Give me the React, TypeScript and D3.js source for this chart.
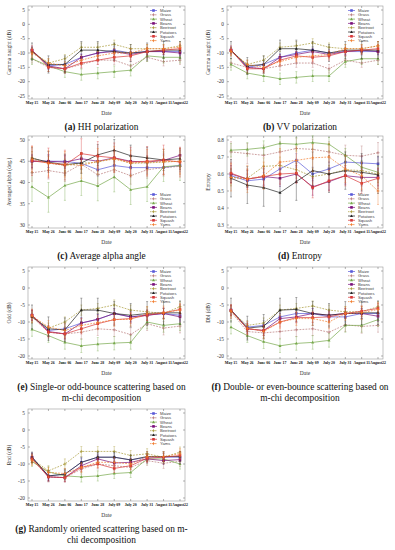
import React from "react";
import * as d3 from "d3";

const dates = ["May 15", "May 26", "June 06", "June 17", "June 28", "July 09", "July 20", "July 31", "August 11", "August22"];
const crops = ["Maize", "Grass", "Wheat", "Beans", "Beetroot", "Potatoes", "Squash", "Yams"];
const cropColors = ["#5a5ad8", "#b87878", "#76a84a", "#7a107a", "#a89a36", "#222222", "#d83838", "#f07a2a"];
const cropDashed = [false, true, false, false, true, false, false, true];
const cropMarkers = ["square", "plus", "triangle", "square", "plus", "triangle", "square", "plus"];

// (a) HH polarization
const hhValues = [
  [-9, -14.5, -14, -11.5, -10, -9, -10, -9.5, -9.5, -9.5],
  [-12, -15, -15.5, -14, -12.5, -12.5, -14.5, -11.5, -13, -12.5],
  [-12, -14.5, -16.5, -17.5, -17, -16.5, -16, -11, -11.5, -11.5],
  [-9, -14.5, -15.5, -11.5, -10, -9.5, -10.5, -9.5, -9.5, -10],
  [-9.5, -13.5, -12, -8, -8, -7, -8.5, -8.5, -8.5, -7.5],
  [-9.5, -14, -14, -9, -9, -9.5, -10, -9.5, -9, -9],
  [-9, -15, -15.5, -13.5, -12.5, -11.5, -11, -9.5, -9, -8.5],
  [-10, -13.5, -14.5, -12.5, -11, -10, -10, -8.5, -8.5, -8],
];
const hhErr = [1.2, 1.5, 2, 1, 1.5, 3, 1.5, 1.5];

// (b) VV polarization
const vvValues = [
  [-9, -15, -14, -11.5, -10, -9, -10, -9.5, -9.5, -9.5],
  [-13.5, -15, -15.5, -14.5, -13.5, -13.5, -15.5, -12.5, -13.5, -12.5],
  [-14, -17, -18, -19, -18.5, -18, -18, -13, -12, -12],
  [-9, -15, -15.5, -11.5, -10.5, -9.5, -10.5, -9.5, -9, -9.5],
  [-9.5, -14, -12.5, -8, -7.5, -6.5, -8, -8.5, -8.5, -7.5],
  [-9, -14.5, -14, -8.5, -8.5, -9, -10, -9, -9, -9],
  [-9, -15.5, -15.5, -12.5, -11, -11.5, -11, -9.5, -9, -8.5],
  [-9.5, -14, -15, -13, -11.5, -11, -10.5, -8.5, -8.5, -7.5],
];
const vvErr = [1.2, 1.5, 2, 1, 1.5, 3, 1.5, 1.5];

// (c) Average alpha angle
const alphaValues = [
  [45, 45, 45, 44.5, 43, 44, 43.5, 43.5, 43.5, 44],
  [42.3, 42.8, 42.2, 44.3, 41.8, 43, 41.6, 43, 43.5, 43.8],
  [39, 36.5, 39.3, 40.4, 39.2, 41.3, 38.3, 39, 43.7, 44],
  [45, 45, 44.8, 45.6, 45, 45.8, 45, 44.8, 45.2, 46.4],
  [45.8, 44.6, 44, 44.5, 44.8, 45.7, 44.5, 44.6, 44.8, 45],
  [45.7, 44.8, 44.2, 44.6, 46.5, 47.6, 46.3, 45.8, 45.3, 45.6],
  [45.1, 44.6, 44.1, 46.8, 46.2, 45.8, 44.8, 45, 45.3, 44.8],
  [45.5, 44.5, 44.3, 44, 45, 45.5, 44.6, 44.8, 44.9, 45],
];
const alphaErr = [1.5, 2, 3.5, 1.5, 1.5, 2.5, 3.5, 3];

// (d) Entropy
const entropyValues = [
  [0.59, 0.56, 0.57, 0.63, 0.68, 0.6, 0.63, 0.67, 0.665, 0.66],
  [0.73, 0.72, 0.71, 0.73, 0.75, 0.745, 0.73, 0.71, 0.705, 0.725],
  [0.74, 0.745, 0.755, 0.78, 0.775, 0.785, 0.775, 0.71, 0.64, 0.61],
  [0.6, 0.57, 0.585, 0.575, 0.6, 0.525, 0.555, 0.59, 0.58, 0.58],
  [0.58, 0.575, 0.645, 0.65, 0.625, 0.585, 0.6, 0.625, 0.62, 0.6],
  [0.575, 0.535, 0.52, 0.49, 0.555, 0.62, 0.6, 0.62, 0.61, 0.595],
  [0.605, 0.57, 0.585, 0.6, 0.605, 0.52, 0.56, 0.59, 0.545, 0.575],
  [0.58, 0.57, 0.59, 0.67, 0.68, 0.695, 0.7, 0.63, 0.59, 0.5],
];
const entropyErr = [0.04, 0.06, 0.04, 0.05, 0.05, 0.11, 0.06, 0.08];

// (e) Odd
const oddValues = [
  [-8, -12.5, -12, -10.3, -9.2, -7.5, -8.5, -8, -7.5, -8],
  [-8.5, -13, -13.5, -13, -12, -12.3, -13.7, -10.5, -11.8, -11.2],
  [-12.2, -14, -16, -17, -16.5, -16.2, -16, -10, -11, -10.5],
  [-8, -12.8, -13.5, -10.3, -9.2, -7.5, -8.5, -8, -7.5, -8.5],
  [-8.5, -11.8, -10, -6.5, -6, -5, -6.5, -7, -7.5, -5.5],
  [-8.5, -12, -12.3, -6.5, -6.5, -7.5, -8, -7.5, -7.3, -7.3],
  [-8, -13, -13.5, -12, -10.5, -9.3, -9, -8, -7.3, -6.3],
  [-8.2, -11.5, -12.5, -11, -10.2, -9.3, -9.2, -7.5, -7.3, -6.5],
];
const oddErr = [1.5, 2, 2, 1.5, 1.5, 3.5, 1.5, 2];

// (f) Dbl
const dblValues = [
  [-6.5, -11.5, -11, -8.5, -7.5, -7.5, -8.5, -8.5, -7.5, -7.5],
  [-7, -12.8, -13.2, -12.8, -12.3, -12, -13, -10.8, -11.3, -11],
  [-11.5, -14, -15.8, -17, -16.3, -16, -15.4, -11, -11, -9.3],
  [-6.5, -12, -12.5, -9, -8.5, -7.5, -8, -7.5, -7.5, -8.3],
  [-6.8, -11, -10.3, -6.5, -6, -5.3, -6.5, -7, -7, -5.5],
  [-6.5, -11.8, -11.3, -6.5, -6.3, -7.5, -8, -7.5, -7.3, -7.3],
  [-6.6, -12, -12.5, -10, -8.7, -8.7, -8.5, -7.5, -6.8, -6],
  [-6.8, -11.8, -12.8, -10, -9, -9, -10, -7.5, -7.3, -6.3],
];
const dblErr = [1.5, 2, 2, 1.5, 1.5, 3.5, 1.5, 2];

// (g) Rnd
const rndValues = [
  [-8, -13.5, -13, -9.5, -8, -8, -8.8, -8, -8, -8],
  [-8.5, -13.8, -14, -11.5, -10, -10.5, -11, -9, -9.8, -9.2],
  [-9.3, -12.3, -13.5, -13.8, -13.5, -12.8, -12.5, -8.5, -8.5, -10],
  [-8, -13.8, -14, -10.5, -8.5, -9.7, -9.5, -8.5, -9, -8.7],
  [-8.5, -12, -10, -6.3, -6.3, -6.3, -7.5, -7, -8, -6.5],
  [-8, -13.5, -13, -9.5, -8, -8, -8.8, -7.8, -7.8, -7.8],
  [-8.5, -13.8, -14, -11, -10, -11.3, -10.5, -8.3, -8, -7.5],
  [-9, -12.5, -12.8, -11, -9.5, -9.5, -10, -7.8, -7.8, -7],
];
const rndErr = [1.2, 1.5, 1.5, 1.2, 1.5, 1.5, 1.2, 1.5];

const dbTicks = [5, 0, -5, -10, -15, -20, -25];
const dbTicks20 = [5, 0, -5, -10, -15, -20];
const alphaTicks = [50, 45, 40, 35, 30];
const entropyTicks = [0.8, 0.7, 0.6, 0.5, 0.4, 0.3];

type PanelSpec = {
  x0: number; x1: number; top: number; bottom: number;
  tTop: number; tBot: number; yTicks: number[]; yLabel: string;
  values: number[][]; err: number[]; legendTop: boolean;
  caption: string[]; tag: string; fmt?: (v: number) => string;
};

const L = { x0: 28, x1: 185 };
const R = { x0: 227, x1: 383 };

const panels: PanelSpec[] = [
  { x0: L.x0, x1: L.x1, top: 6, bottom: 99, tTop: 10, tBot: 96, yTicks: dbTicks, yLabel: "Gamma naught (dB)", values: hhValues, err: hhErr, legendTop: true, tag: "(a)", caption: [" HH polarization"] },
  { x0: R.x0, x1: R.x1, top: 6, bottom: 99, tTop: 10, tBot: 96, yTicks: dbTicks, yLabel: "Gamma naught (dB)", values: vvValues, err: vvErr, legendTop: true, tag: "(b)", caption: [" VV polarization"] },
  { x0: L.x0, x1: L.x1, top: 136, bottom: 228, tTop: 140, tBot: 225, yTicks: alphaTicks, yLabel: "Averaged alpha (deg.)", values: alphaValues, err: alphaErr, legendTop: false, tag: "(c)", caption: [" Average alpha angle"] },
  { x0: R.x0, x1: R.x1, top: 136, bottom: 228, tTop: 140, tBot: 225, yTicks: entropyTicks, yLabel: "Entropy", values: entropyValues, err: entropyErr, legendTop: false, tag: "(d)", caption: [" Entropy"], fmt: (v) => v.toFixed(1) },
  { x0: L.x0, x1: L.x1, top: 267, bottom: 359, tTop: 271, tBot: 356, yTicks: dbTicks20, yLabel: "Odd (dB)", values: oddValues, err: oddErr, legendTop: true, tag: "(e)", caption: [" Single-or odd-bounce scattering based on", "m-chi decomposition"] },
  { x0: R.x0, x1: R.x1, top: 267, bottom: 359, tTop: 271, tBot: 356, yTicks: dbTicks20, yLabel: "Dbl (dB)", values: dblValues, err: dblErr, legendTop: true, tag: "(f)", caption: [" Double- or even-bounce scattering based on", "m-chi decomposition"] },
  { x0: L.x0, x1: L.x1, top: 409, bottom: 501, tTop: 413, tBot: 498, yTicks: dbTicks20, yLabel: "Rnd (dB)", values: rndValues, err: rndErr, legendTop: true, tag: "(g)", caption: [" Randomly oriented scattering based on m-", "chi decomposition"] },
];

function Marker({ kind, x, y, color }: { kind: string; x: number; y: number; color: string }) {
  const s = 1.3;
  if (kind === "square") return <rect x={x - s} y={y - s} width={2 * s} height={2 * s} fill={color} />;
  if (kind === "triangle") return <path d={`M${x},${y - 1.6}L${x + 1.5},${y + 1.1}L${x - 1.5},${y + 1.1}Z`} fill={color} />;
  return <path d={`M${x - 1.5},${y}H${x + 1.5}M${x},${y - 1.5}V${y + 1.5}`} stroke={color} strokeWidth={0.7} />;
}

function Panel({ p }: { p: PanelSpec }) {
  const xs = d3.scalePoint<string>().domain(dates).range([p.x0 + 4, p.x1 - 5]);
  const ys = d3.scaleLinear().domain([p.yTicks[0], p.yTicks[p.yTicks.length - 1]]).range([p.tTop, p.tBot]);
  const line = d3.line<number>().x((_, i) => xs(dates[i]) as number).y((v) => ys(v));
  const fmt = p.fmt || ((v: number) => String(v));
  const legY0 = p.legendTop ? p.top + 4.5 : p.bottom - 33.5;
  const legX = p.x1 - 35;
  const cx = (p.x0 + p.x1) / 2;
  return (
    <g>
      <rect x={p.x0} y={p.top} width={p.x1 - p.x0} height={p.bottom - p.top} fill="#fff" stroke="#999" strokeWidth={0.6} />
      {p.yTicks.map((t) => (
        <g key={"yt" + t}>
          <line x1={p.x0} x2={p.x0 + 2} y1={ys(t)} y2={ys(t)} stroke="#666" strokeWidth={0.5} />
          <line x1={p.x1} x2={p.x1 - 2} y1={ys(t)} y2={ys(t)} stroke="#666" strokeWidth={0.5} />
          <text x={p.x0 - 3} y={ys(t) + 1.8} fontSize={5.3} textAnchor="end" fontFamily="Liberation Serif, serif" fill="#333">{fmt(t)}</text>
        </g>
      ))}
      {dates.map((d) => (
        <g key={"xt" + d}>
          <line x1={xs(d)} x2={xs(d)} y1={p.bottom} y2={p.bottom - 2} stroke="#666" strokeWidth={0.5} />
          <line x1={xs(d)} x2={xs(d)} y1={p.top} y2={p.top + 2} stroke="#666" strokeWidth={0.5} />
          <text x={xs(d)} y={p.bottom + 5} fontSize={3.9} fontWeight="bold" textAnchor="middle" fontFamily="Liberation Serif, serif" fill="#111">{d}</text>
        </g>
      ))}
      <text x={cx} y={p.bottom + 16} fontSize={5.5} textAnchor="middle" fontFamily="Liberation Serif, serif" fill="#333">Date</text>
      <text transform={`translate(${p.x0 - 17},${(p.top + p.bottom) / 2}) rotate(-90)`} fontSize={5.5} textAnchor="middle" fontFamily="Liberation Serif, serif" fill="#333">{p.yLabel}</text>
      {p.values.map((vals, si) => (
        <g key={"s" + si}>
          {vals.map((v, i) => (
            <g key={i} stroke={cropColors[si]} strokeWidth={0.5} opacity={0.75}>
              <line x1={xs(dates[i])} x2={xs(dates[i])} y1={ys(v - p.err[si])} y2={ys(v + p.err[si])} />
              <line x1={(xs(dates[i]) as number) - 1} x2={(xs(dates[i]) as number) + 1} y1={ys(v - p.err[si])} y2={ys(v - p.err[si])} />
              <line x1={(xs(dates[i]) as number) - 1} x2={(xs(dates[i]) as number) + 1} y1={ys(v + p.err[si])} y2={ys(v + p.err[si])} />
            </g>
          ))}
          <path d={line(vals) || ""} fill="none" stroke={cropColors[si]} strokeWidth={0.7} strokeDasharray={cropDashed[si] ? "1.8,1.2" : undefined} />
          {vals.map((v, i) => (
            <Marker key={"m" + i} kind={cropMarkers[si]} x={xs(dates[i]) as number} y={ys(v)} color={cropColors[si]} />
          ))}
        </g>
      ))}
      {crops.map((c, si) => {
        const y = legY0 + si * 4.3;
        return (
          <g key={"lg" + c}>
            <line x1={legX} x2={legX + 7} y1={y} y2={y} stroke={cropColors[si]} strokeWidth={0.7} strokeDasharray={cropDashed[si] ? "1.5,1" : undefined} />
            <Marker kind={cropMarkers[si]} x={legX + 3.5} y={y} color={cropColors[si]} />
            <text x={legX + 10} y={y + 1.5} fontSize={4.2} fontFamily="Liberation Sans, sans-serif" fill="#444">{c}</text>
          </g>
        );
      })}
      {p.caption.map((line2, li) => (
        <text key={"cap" + li} x={cx - 5} y={p.bottom + 31 + li * 11} fontSize={9.4} textAnchor="middle" fontFamily="Liberation Serif, serif" fill="#111">
          {li === 0 ? <tspan fontWeight="bold">{p.tag}</tspan> : null}
          {line2}
        </text>
      ))}
    </g>
  );
}

export default function App() {
  return (
    <svg width={395} height={550} style={{ position: "absolute", left: 0, top: 0, background: "#fff" }}>
      <rect width={395} height={550} fill="#fff" />
      {panels.map((p, i) => (
        <Panel key={i} p={p} />
      ))}
    </svg>
  );
}
